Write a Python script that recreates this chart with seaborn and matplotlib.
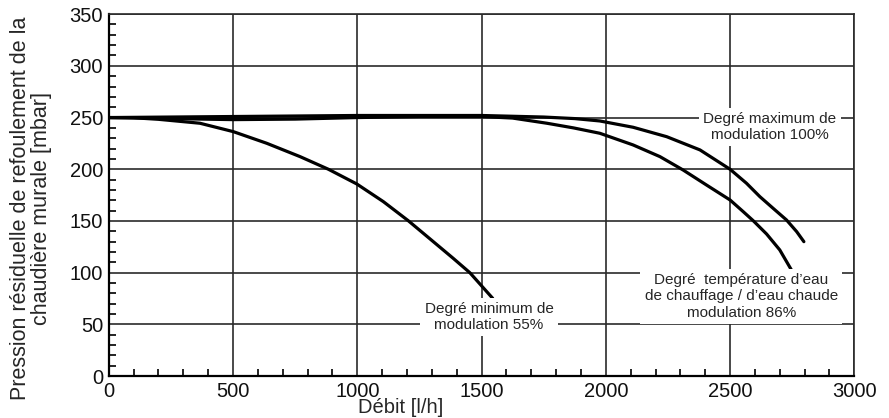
import numpy as np
import pandas as pd
import matplotlib
matplotlib.use("Agg")
import matplotlib.pyplot as plt
import seaborn as sns
from matplotlib.ticker import MultipleLocator

# curves: flow [l/h] -> residual pressure [mbar]
flow_max = [0, 250, 500, 750, 1000, 1250, 1500, 1750, 1875, 1976, 2110, 2245, 2379,
            2500, 2566, 2620, 2673, 2727, 2768, 2797]
pres_max = [250, 250.5, 251, 251.5, 252, 252, 252, 250.5, 249, 246.7, 240.6, 231.5, 218.7,
            200, 186.5, 173.5, 162.3, 151, 139.7, 130]

flow_86 = [0, 250, 500, 750, 1000, 1250, 1500, 1625, 1763, 1870, 1976, 2110, 2218, 2311,
           2405, 2500, 2553, 2593, 2647, 2700, 2747]
pres_86 = [250, 249, 248, 248.5, 250, 251, 251, 249.5, 244.5, 240, 234.8, 223.5, 212.2, 199.3,
           184.8, 170.3, 159, 150.3, 137.4, 122, 102.6]

flow_55 = [0, 100, 200, 367, 501, 636, 770, 884, 998, 1105, 1205, 1306, 1386, 1453, 1545]
pres_55 = [250, 249.8, 248.3, 244.5, 236.4, 225.1, 212.2, 200, 185.8, 168.7, 150.3, 130,
           113.9, 100, 75.2]

labels = {
    "max": "Degré maximum de\nmodulation 100%",
    "86": "Degré  température d’eau\nde chauffage / d’eau chaude\nmodulation 86%",
    "55": "Degré minimum de\nmodulation 55%",
}

sns.set_theme(style="white")
plt.rcParams["font.family"] = ["Liberation Sans", "DejaVu Sans"]

fig = plt.figure(figsize=(8.89, 4.18), dpi=100)
ax = fig.add_axes([0.1223, 0.1002, 0.8387, 0.866])

for fl, pr in [(flow_max, pres_max), (flow_86, pres_86), (flow_55, pres_55)]:
    df = pd.DataFrame({"flow": fl, "p": pr})
    sns.lineplot(data=df, x="flow", y="p", ax=ax, color="black", lw=2.3,
                 sort=False, estimator=None, zorder=3)

ax.set_xlim(0, 3000)
ax.set_ylim(0, 350)
ax.xaxis.set_major_locator(MultipleLocator(500))
ax.yaxis.set_major_locator(MultipleLocator(50))
ax.xaxis.set_minor_locator(MultipleLocator(100))
ax.yaxis.set_minor_locator(MultipleLocator(10))
ax.grid(True, which="major", color="#2a2a2a", lw=1.2, zorder=1)
ax.tick_params(which="major", length=0, labelsize=14.5, pad=4, colors="#111111")
ax.tick_params(which="minor", direction="in", length=5, width=1.2, color="black",
               left=True, bottom=True)

for side in ["top", "right"]:
    ax.spines[side].set_color("#2a2a2a")
    ax.spines[side].set_linewidth(1.2)
for side in ["left", "bottom"]:
    ax.spines[side].set_color("black")
    ax.spines[side].set_linewidth(1.6)

ax.set_xlabel("Débit [l/h]", fontsize=14.5, labelpad=0)
ax.xaxis.set_label_coords(0.392, -0.06)
ax.set_ylabel("Pression résiduelle de refoulement de la\nchaudière murale [mbar]",
              fontsize=15.5, linespacing=1.0)
ax.yaxis.set_label_coords(-0.076, 0.464)

box = dict(facecolor="white", edgecolor="none", pad=3)
ax.text(2660, 241, labels["max"], ha="center", va="center", fontsize=11,
        bbox=box, zorder=4, linespacing=1.2)
ax.text(2545, 77, labels["86"], ha="center", va="center", fontsize=11,
        bbox=box, zorder=4, linespacing=1.2)
ax.text(1530, 57, labels["55"], ha="center", va="center", fontsize=11,
        bbox=box, zorder=4, linespacing=1.2)

fig.savefig("out.png", dpi=100)
